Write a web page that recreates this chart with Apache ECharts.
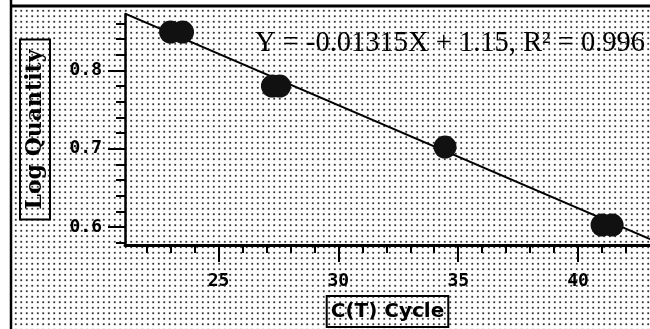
<!DOCTYPE html>
<html>
<head>
<meta charset="utf-8">
<script src="https://cdn.jsdelivr.net/npm/echarts@6/dist/echarts.min.js"></script>
<style>
  html, body { margin: 0; padding: 0; background: #fff; }
  #wrap { position: relative; width: 650px; height: 329px; background: #fff; overflow: hidden; }
  #dots { position: absolute; left: 12px; top: 7px; right: 0; bottom: 0;
          background-image: radial-gradient(circle, #333 0.95px, rgba(255,255,255,0) 1.35px);
          background-size: 5.5px 5.5px; background-position: 1px 1px; }
  #chart { position: absolute; left: 0; top: 0; width: 650px; height: 329px; }
</style>
</head>
<body>
<div id="wrap"><div id="dots"></div><div id="chart"></div></div>
<script>
// Data
const ctCycle   = [23.0, 23.5, 27.25, 27.55, 34.45, 41.0, 41.42];
const logQty    = [0.849, 0.849, 0.780, 0.780, 0.702, 0.6025, 0.6025];
const fitX      = [21.1, 43.0];
const fitY      = [0.8725, 0.5845];
const xMajorTicks = [25, 30, 35, 40];
const xMinorTicks = [22, 23, 24, 26, 27, 28, 29, 31, 32, 33, 34, 36, 37, 38, 39, 41, 42];
const yMajorTicks = [0.6, 0.7, 0.8];
const yMinorTicks = [0.58, 0.62, 0.64, 0.66, 0.68, 0.72, 0.74, 0.76, 0.78, 0.82, 0.84, 0.86];
const xTitle = 'C(T) Cycle';
const yTitle = 'Log Quantity';
const equation = 'Y = -0.01315X + 1.15, R² = 0.996';

const X_MIN = 21.1, X_MAX = 43.0, Y_MIN = 0.577, Y_MAX = 0.872;

const chart = echarts.init(document.getElementById('chart'), null, { renderer: 'canvas' });
const labelFont = { fontFamily: 'DejaVu Sans Mono', fontWeight: 'bold', fontSize: 18, color: '#000' };

chart.setOption({
  animation: false,
  backgroundColor: 'transparent',
  grid: { left: 125, top: 14, right: 0, bottom: 84, containLabel: false, outerBoundsMode: 'none' },
  xAxis: [{
    type: 'value', min: X_MIN, max: X_MAX,
    name: xTitle, nameLocation: 'middle', nameGap: 49,
    nameTextStyle: { fontFamily: 'DejaVu Sans', fontWeight: 'bold', fontSize: 20, color: '#000',
      borderColor: '#000', borderWidth: 2, padding: [4, 4, 3, 4], lineHeight: 24 },
    axisLine: { show: true, lineStyle: { color: '#000', width: 3 } },
    axisTick: { show: true, customValues: xMajorTicks, length: 17, lineStyle: { color: '#000', width: 2 } },
    axisLabel: Object.assign({ customValues: xMajorTicks, margin: 27 }, labelFont),
    splitLine: { show: false }
  }, {
    type: 'value', min: X_MIN, max: X_MAX, position: 'bottom',
    axisLine: { show: false },
    axisTick: { show: true, customValues: xMinorTicks, length: 8, lineStyle: { color: '#000', width: 2 } },
    axisLabel: { show: false },
    splitLine: { show: false }
  }],
  yAxis: [{
    type: 'value', min: Y_MIN, max: Y_MAX,
    name: yTitle, nameLocation: 'middle', nameRotate: 90, nameGap: 75,
    nameTextStyle: { fontFamily: 'DejaVu Serif', fontWeight: 'bold', fontSize: 22, color: '#000',
      borderColor: '#000', borderWidth: 2, padding: [3, 10, 3, 10], lineHeight: 24 },
    axisLine: { show: true, lineStyle: { color: '#000', width: 2.5 } },
    axisTick: { show: true, customValues: yMajorTicks, length: 17, lineStyle: { color: '#000', width: 2 } },
    axisLabel: Object.assign({ customValues: yMajorTicks, margin: 23, formatter: v => v.toFixed(1) }, labelFont),
    splitLine: { show: false }
  }, {
    type: 'value', min: Y_MIN, max: Y_MAX, position: 'left',
    axisLine: { show: false },
    axisTick: { show: true, customValues: yMinorTicks, length: 9, lineStyle: { color: '#000', width: 2 } },
    axisLabel: { show: false },
    splitLine: { show: false }
  }],
  graphic: [
    { type: 'line', shape: { x1: 11, y1: 0, x2: 11, y2: 329 }, style: { stroke: '#000', lineWidth: 2.5 }, silent: true },
    { type: 'line', shape: { x1: 10, y1: 6, x2: 650, y2: 6 }, style: { stroke: '#000', lineWidth: 3 }, silent: true },
    { type: 'text', left: 255, top: 29, style: { text: equation, fontFamily: 'Liberation Serif', fontSize: 28.5, fill: '#000' }, silent: true }
  ],
  series: [{
    type: 'line', xAxisIndex: 0, yAxisIndex: 0,
    data: fitX.map((x, i) => [x, fitY[i]]),
    showSymbol: false, lineStyle: { color: '#000', width: 2 }, z: 2, clip: true
  }, {
    type: 'scatter', xAxisIndex: 0, yAxisIndex: 0,
    data: ctCycle.map((x, i) => [x, logQty[i]]),
    symbol: 'circle', symbolSize: 23, itemStyle: { color: '#111', opacity: 1 }, z: 3
  }]
});
</script>
</body>
</html>
